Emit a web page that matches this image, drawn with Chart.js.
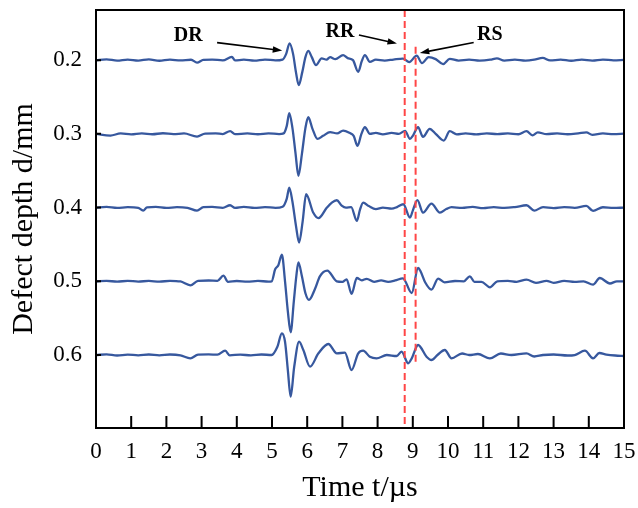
<!DOCTYPE html>
<html>
<head>
<meta charset="utf-8">
<script src="https://cdn.jsdelivr.net/npm/chart.js@4.4.1/dist/chart.umd.min.js"></script>
<style>
  html, body { margin: 0; padding: 0; background: #fff; }
  canvas { display: block; }
</style>
</head>
<body>
<canvas id="chart" width="638" height="508"></canvas>
<script>
// Defect depths (mm), one trace per depth, top to bottom
const depths = [0.2, 0.3, 0.4, 0.5, 0.6];
const xTickValues = [0, 1, 2, 3, 4, 5, 6, 7, 8, 9, 10, 11, 12, 13, 14, 15];

// Traces: [time µs, amplitude a.u.]
const wave02 = [[0,0],[0.3,0.8],[0.6,-0.5],[0.9,0.6],[1.2,-0.4],[1.5,0.7],[1.8,-0.6],[2.1,0.5],[2.4,-0.3],[2.7,0.4],[2.87,-2.5],[3.05,0.3],[3.3,0.6],[3.6,-0.3],[3.86,3.2],[3.95,-0.3],[4.2,0.5],[4.5,-0.5],[4.8,0.6],[5.1,-0.3],[5.3,0.5],[5.4,6],[5.5,16.7],[5.6,6],[5.68,-12],[5.76,-25],[5.86,-12],[5.95,3],[6.03,9.3],[6.13,3],[6.25,-5],[6.41,1.7],[6.55,0.5],[6.65,3],[6.8,1],[7.02,5],[7.15,2],[7.3,0],[7.45,-11.7],[7.55,-1],[7.64,5],[7.78,-1.7],[7.95,0.5],[8.2,-0.4],[8.45,0.6],[8.72,1.5],[8.9,-2],[9.11,4.5],[9.26,-3],[9.45,3],[9.65,1],[9.86,-4],[10.05,1.2],[10.3,-0.4],[10.6,0.5],[10.9,-0.5],[11.2,0.4],[11.39,1.8],[11.6,-0.4],[11.9,0.5],[12.2,-0.5],[12.45,0.4],[12.69,2.2],[12.9,-0.3],[13.2,0.5],[13.5,-0.6],[13.8,0.5],[14.1,-0.4],[14.4,0.6],[14.7,-0.3],[15,0.3]];
const wave03 = [[0,0],[0.41,-1.7],[0.7,0.4],[1.0,-0.5],[1.3,0.5],[1.6,-0.4],[1.9,0.6],[2.2,-0.3],[2.5,0.4],[2.87,-2.7],[3.1,0.3],[3.4,0.5],[3.6,-0.2],[3.81,2.7],[3.95,-0.3],[4.3,0.4],[4.6,-0.4],[4.9,0.5],[5.2,-0.2],[5.33,0.5],[5.42,8],[5.49,20.6],[5.58,6],[5.67,-20],[5.75,-42],[5.85,-20],[5.95,6],[6.03,16.6],[6.15,5],[6.29,-5],[6.45,-2],[6.65,1.7],[6.85,0.5],[7.02,3.3],[7.2,1],[7.32,-2],[7.43,-12],[7.54,0],[7.64,6.6],[7.78,0],[7.95,1],[8.15,-0.5],[8.4,1],[8.6,0],[8.78,3],[8.92,-5],[9.0,-2],[9.15,6.6],[9.29,-3],[9.48,5],[9.65,0],[9.88,-6.7],[10.05,2.7],[10.25,-0.5],[10.5,0.5],[10.8,-0.5],[11.1,0.5],[11.4,-0.3],[11.7,0.5],[12.0,-0.4],[12.23,2.7],[12.4,-1.5],[12.55,1.5],[12.8,-0.3],[13.1,0.5],[13.4,-0.4],[13.7,0.5],[13.93,1.5],[14.1,-1],[14.4,0.4],[14.7,-0.3],[15,0.2]];
const wave04 = [[0,0],[0.3,0.6],[0.6,-0.4],[0.9,0.5],[1.2,-0.3],[1.34,-3],[1.45,0.3],[1.7,0.6],[2.0,-0.4],[2.3,0.5],[2.6,-0.3],[2.87,-3],[3.05,0.4],[3.3,0.6],[3.6,-0.3],[3.81,2.3],[3.95,-0.4],[4.2,0.6],[4.5,-0.4],[4.8,0.5],[5.1,-0.3],[5.3,0.8],[5.42,9],[5.49,20],[5.58,6],[5.68,-18],[5.77,-35],[5.87,-14],[5.97,13.3],[6.17,-5],[6.32,-10.6],[6.56,0],[6.7,5],[6.84,7.3],[6.98,2],[7.1,0],[7.25,0.5],[7.41,-13.3],[7.5,-2],[7.59,5],[7.75,1.5],[7.95,-1.5],[8.15,0],[8.4,-1],[8.55,0.5],[8.73,3.3],[8.92,-10],[9.0,-3],[9.13,7.5],[9.29,-5],[9.53,4],[9.77,-5],[9.95,-1.5],[10.1,0.5],[10.4,-0.4],[10.7,0.6],[11.0,-0.5],[11.3,0.5],[11.6,-0.4],[11.9,0.5],[12.23,2.3],[12.45,-3],[12.7,0.4],[13.0,-0.5],[13.3,0.5],[13.6,-0.3],[13.93,1.7],[14.12,-3.3],[14.4,0.3],[14.7,-0.4],[15,0]];
const wave05 = [[0,0],[0.3,0.5],[0.6,-0.4],[0.9,0.5],[1.2,-0.3],[1.5,0.4],[1.8,-0.4],[2.1,0.5],[2.4,-0.2],[2.68,-4],[2.9,0.5],[3.2,0.8],[3.45,0.5],[3.62,5.7],[3.75,-0.5],[4.0,0.3],[4.3,-0.4],[4.6,0.4],[4.9,-0.3],[4.99,0],[5.09,12],[5.18,16],[5.28,26.7],[5.37,0],[5.45,-30],[5.53,-51],[5.62,-20],[5.69,5],[5.75,19],[5.85,5],[5.95,-12],[6.05,-18.6],[6.22,-7.7],[6.36,5],[6.57,10.7],[6.84,0],[7.0,-0.5],[7.12,2],[7.26,-12.6],[7.41,3.3],[7.55,1],[7.69,2.5],[7.9,-0.5],[8.1,1],[8.3,-0.5],[8.5,0.8],[8.72,3],[8.97,-11.7],[9.15,13.3],[9.22,10],[9.35,-1],[9.53,-8.3],[9.72,2.7],[9.9,-1],[10.2,0.3],[10.45,0],[10.62,5],[10.75,-0.5],[10.95,-0.5],[11.19,-6],[11.4,0],[11.7,0.5],[11.95,-0.5],[12.23,1.7],[12.5,-1.5],[12.8,0.5],[13.0,-1.5],[13.3,0.5],[13.6,-0.5],[13.85,0],[14.12,-3.3],[14.31,3.3],[14.6,-2.2],[14.8,0],[15,0]];
const wave06 = [[0,0],[0.3,0.6],[0.6,-0.5],[0.9,0.4],[1.2,-0.3],[1.5,0.5],[1.8,-0.4],[2.1,0.5],[2.4,-0.3],[2.68,-3.3],[2.9,0.4],[3.2,0.6],[3.45,0.3],[3.67,4.3],[3.8,-0.3],[4.1,0.4],[4.4,-0.4],[4.7,0.5],[4.99,0],[5.15,8],[5.28,21.7],[5.37,13.3],[5.45,-15],[5.53,-41.7],[5.63,-12],[5.77,13.3],[5.89,5],[6.08,-11.7],[6.32,1.7],[6.6,11],[6.84,1.7],[7.07,2.3],[7.26,-15],[7.45,1.7],[7.59,4.3],[7.78,-1.7],[7.97,-3.3],[8.26,0],[8.54,-1],[8.68,3.3],[8.87,-8.3],[8.97,-3.3],[9.15,10],[9.39,-1.7],[9.53,-5],[9.7,0],[9.91,5],[10.1,-3.3],[10.4,1.5],[10.6,0],[10.85,1],[11.19,-3.3],[11.5,1.5],[11.8,0],[12.23,1.7],[12.45,-1.5],[12.7,0],[13.0,0.5],[13.4,-0.5],[13.6,0],[13.89,4.3],[14.12,-3.3],[14.3,2],[14.5,0.5],[14.75,-0.5],[15,-1]];
const waves = [wave02, wave03, wave04, wave05, wave06];

// Red dashed marker lines: [time µs, depth mm]
const rrLine = [[8.77, 0.132], [8.77, 0.699]];
const rsLine = [[9.08, 0.182], [9.08, 0.614]];

// Labels with arrows, in data coordinates
const notes = [
  { text: "DR", at: [2.62, 0.167], from: [3.44, 0.1762], to: [5.29, 0.1871] },
  { text: "RR", at: [6.93, 0.1618], from: [7.47, 0.1659], to: [8.55, 0.1774] },
  { text: "RS", at: [11.19, 0.1659], from: [10.73, 0.1762], to: [9.2, 0.1903] }
];

const Y_MIN = 0.132, Y_MAX = 0.699;
const GAIN = 0.567 / 418; // depth units per amplitude unit

const serif = "'Liberation Serif', 'Times New Roman', serif";
const blue = "rgb(55, 88, 158)";
const red = "rgb(255, 70, 70)";

function arrow(ctx, x1, y1, x2, y2) {
  const ang = Math.atan2(y2 - y1, x2 - x1);
  const h = 10;
  ctx.beginPath();
  ctx.moveTo(x1, y1);
  ctx.lineTo(x2 - Math.cos(ang) * h * 0.7, y2 - Math.sin(ang) * h * 0.7);
  ctx.stroke();
  ctx.beginPath();
  ctx.moveTo(x2, y2);
  ctx.lineTo(x2 - h * Math.cos(ang - 0.33), y2 - h * Math.sin(ang - 0.33));
  ctx.lineTo(x2 - h * Math.cos(ang + 0.33), y2 - h * Math.sin(ang + 0.33));
  ctx.closePath();
  ctx.fill();
}

// frame, inward ticks and the arrow labels
const extras = {
  id: "extras",
  afterDraw(chart) {
    const { ctx, chartArea: a, scales: { x, y } } = chart;
    ctx.save();
    ctx.strokeStyle = "#000";
    ctx.lineWidth = 2;
    ctx.strokeRect(a.left, a.top, a.right - a.left, a.bottom - a.top);
    ctx.beginPath();
    x.ticks.forEach(t => {
      const px = x.getPixelForValue(t.value);
      ctx.moveTo(px, a.bottom);
      ctx.lineTo(px, a.bottom - 12);
    });
    y.ticks.forEach(t => {
      const py = y.getPixelForValue(t.value);
      ctx.moveTo(a.left, py);
      ctx.lineTo(a.left + 5, py);
    });
    ctx.stroke();

    ctx.fillStyle = "#000";
    ctx.lineWidth = 1.6;
    ctx.font = "bold 20px " + serif;
    ctx.textAlign = "center";
    ctx.textBaseline = "middle";
    notes.forEach(n => {
      ctx.fillText(n.text, x.getPixelForValue(n.at[0]), y.getPixelForValue(n.at[1]));
      arrow(ctx,
        x.getPixelForValue(n.from[0]), y.getPixelForValue(n.from[1]),
        x.getPixelForValue(n.to[0]), y.getPixelForValue(n.to[1]));
    });
    ctx.restore();
  }
};

const markerSet = (pts) => ({
  data: pts.map(([t, d]) => ({ x: t, y: d })),
  showLine: true,
  borderColor: red,
  borderWidth: 2,
  borderDash: [7, 4],
  pointRadius: 0,
  clip: false
});

const traceSets = waves.map((w, i) => ({
  data: w.map(([t, amp]) => ({ x: t, y: depths[i] - amp * GAIN })),
  showLine: true,
  borderColor: blue,
  borderWidth: 2.3,
  pointRadius: 0,
  cubicInterpolationMode: "monotone"
}));

new Chart(document.getElementById("chart"), {
  type: "scatter",
  data: { datasets: [markerSet(rrLine), markerSet(rsLine), ...traceSets] },
  options: {
    responsive: false,
    animation: false,
    devicePixelRatio: 1,
    layout: { padding: { top: 10, right: 14, left: 0, bottom: 0 } },
    plugins: { legend: { display: false }, tooltip: { enabled: false } },
    scales: {
      x: {
        type: "linear",
        min: 0,
        max: 15,
        afterFit: (s) => { s.height = 80; s.paddingLeft = 0; s.paddingRight = 0; },
        afterBuildTicks: (s) => { s.ticks = xTickValues.map(v => ({ value: v })); },
        grid: { display: false, drawTicks: false },
        border: { display: true, color: "#000", width: 2 },
        ticks: { color: "#000", padding: 10, font: { family: serif, size: 23 } },
        title: {
          display: true,
          text: "Time t/µs",
          color: "#000",
          font: { family: serif, size: 30 },
          padding: { top: 0, bottom: 2 }
        }
      },
      y: {
        type: "linear",
        reverse: true,
        min: Y_MIN,
        max: Y_MAX,
        afterFit: (s) => { s.width = 96; s.paddingTop = 0; s.paddingBottom = 0; },
        afterBuildTicks: (s) => { s.ticks = depths.map(v => ({ value: v })); },
        grid: { display: false, drawTicks: false },
        border: { display: true, color: "#000", width: 2 },
        ticks: {
          color: "#000",
          padding: 14,
          font: { family: serif, size: 23 },
          callback: (v) => Number(v).toFixed(1)
        },
        title: {
          display: true,
          text: "Defect depth d/mm",
          color: "#000",
          font: { family: serif, size: 30 },
          padding: { top: 6, bottom: 0 }
        }
      }
    }
  },
  plugins: [extras]
});
</script>
</body>
</html>
